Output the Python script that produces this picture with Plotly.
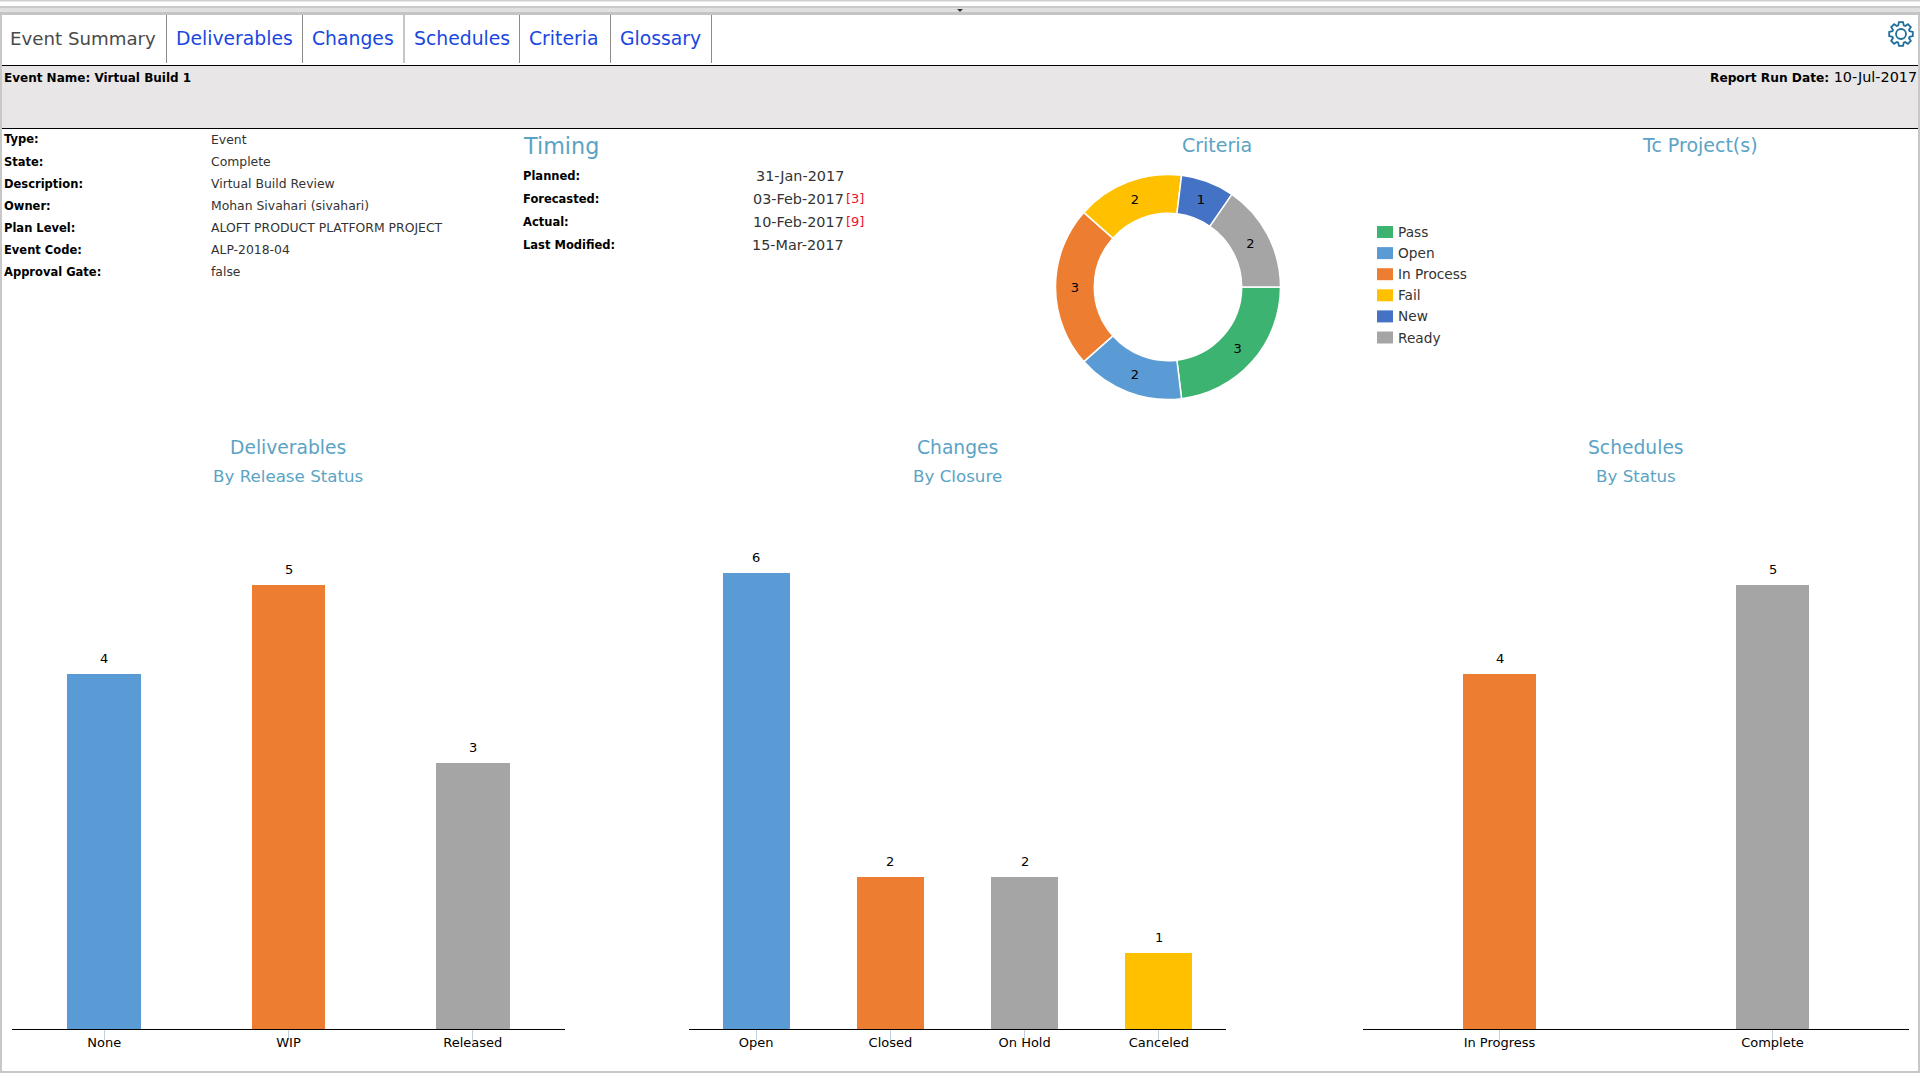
import numpy as np
import plotly.graph_objects as go

W, H = 1920, 1080
FONT = "DejaVu Sans"
TITLE_COLOR = "#5BA3C4"
TAB_BLUE = "#1A47E0"
TEXT_COLOR = "#333333"

tabs = ["Event Summary", "Deliverables", "Changes", "Schedules", "Criteria", "Glossary"]
tab_left = [9, 175, 311, 413, 528, 619]
tab_dividers = [166.5, 302.5, 404, 519.5, 610.5, 711.5]

info_keys = ["Type:", "State:", "Description:", "Owner:", "Plan Level:", "Event Code:", "Approval Gate:"]
info_values = ["Event", "Complete", "Virtual Build Review", "Mohan Sivahari (sivahari)",
               "ALOFT PRODUCT PLATFORM PROJECT", "ALP-2018-04", "false"]

timing_keys = ["Planned:", "Forecasted:", "Actual:", "Last Modified:"]
timing_dates = ["31-Jan-2017", "03-Feb-2017", "10-Feb-2017", "15-Mar-2017"]
timing_slips = ["", "[3]", "[9]", ""]

criteria_labels = ["Pass", "Open", "In Process", "Fail", "New", "Ready"]
criteria_values = [3, 2, 3, 2, 1, 2]
criteria_colors = ["#3CB371", "#5B9BD5", "#ED7D31", "#FFC000", "#4472C4", "#A5A5A5"]

deliv_labels = ["None", "WIP", "Released"]
deliv_values = [4, 5, 3]
deliv_colors = ["#5B9BD5", "#ED7D31", "#A5A5A5"]

change_labels = ["Open", "Closed", "On Hold", "Canceled"]
change_values = [6, 2, 2, 1]
change_colors = ["#5B9BD5", "#ED7D31", "#A5A5A5", "#FFC000"]

sched_labels = ["In Progress", "Complete"]
sched_values = [4, 5]
sched_colors = ["#ED7D31", "#A5A5A5"]


def px(x):
    return x / W


def py(y):
    return 1 - y / H


def label(x, y, text, size=13, color=TEXT_COLOR, anchor="left"):
    return dict(x=px(x), y=py(y), xref="paper", yref="paper", text=text, showarrow=False,
                xanchor=anchor, yanchor="middle", borderpad=0,
                font=dict(family=FONT, size=size, color=color))


def rect(x0, y0, x1, y1, fill):
    return dict(type="rect", xref="paper", yref="paper", x0=px(x0), x1=px(x1), y0=py(y0), y1=py(y1),
                fillcolor=fill, line_width=0, layer="below")


def hline(x0, x1, y, color="black", width=1):
    return dict(type="line", xref="paper", yref="paper", x0=px(x0), x1=px(x1), y0=py(y), y1=py(y),
                line=dict(color=color, width=width))


def vline(x, y0, y1, color="#8C8C8C", width=1):
    return dict(type="line", xref="paper", yref="paper", x0=px(x), x1=px(x), y0=py(y0), y1=py(y1),
                line=dict(color=color, width=width))


def gear_path(cx, cy, r_out, r_in, teeth=8):
    pts = []
    step = 2 * np.pi / teeth
    for i in range(teeth):
        a = i * step
        for off, r in [(-0.36, r_in), (-0.2, r_out), (0.2, r_out), (0.36, r_in)]:
            t = a + off * step * 1.1
            pts.append((cx + r * np.cos(t), cy + r * np.sin(t)))
    return "M" + " L".join(f"{px(x):.5f},{py(y):.5f}" for x, y in pts) + " Z"


shapes = [
    rect(0, 0, W, 1.5, "#CFCFCF"),
    rect(0, 6, W, 8, "#CACACA"),
    rect(0, 8, W, 12, "#E0E0E0"),
    rect(0, 12, W, 15, "#C4C4C4"),
    rect(0, 66, W, 128, "#E8E6E7"),
    hline(0, W, 65.5),
    hline(2, W - 2, 128.5),
    vline(1, 15, 1072, "#C8C8C8", 2),
    vline(W - 1, 15, 1072, "#C8C8C8", 2),
    hline(0, W, 1072, "#C8C8C8", 2),
]
shapes += [vline(x, 15, 63) for x in tab_dividers]
# little arrow in the splitter bar and the settings gear
shapes.append(dict(type="path", xref="paper", yref="paper", fillcolor="#333333", line_width=0,
                   path=f"M{px(957)},{py(9)} L{px(963)},{py(9)} L{px(960)},{py(12)} Z"))
shapes.append(dict(type="path", xref="paper", yref="paper", line=dict(color="#1F6E9C", width=1.8),
                   path=gear_path(1901, 34, 12, 9)))
shapes.append(dict(type="circle", xref="paper", yref="paper", line=dict(color="#1F6E9C", width=1.8),
                   x0=px(1896), x1=px(1906), y0=py(29), y1=py(39)))

annotations = []
for i, name in enumerate(tabs):
    if i == 0:
        annotations.append(label(tab_left[i], 38, name, 18.2, "#4A4A4A"))
    else:
        annotations.append(label(tab_left[i], 38, name, 18.8, TAB_BLUE))

annotations.append(label(2.5, 78, "<b>Event Name: Virtual Build 1</b>", 12, "black"))
annotations.append(label(1918, 77, "<span style='font-size:12.2px'><b>Report Run Date:</b></span> 10-Jul-2017",
                         14.4, "black", "right"))

for i, key in enumerate(info_keys):
    y = 139.5 + 22 * i
    annotations.append(label(2.5, y, f"<b>{key}</b>", 11.5, "black"))
    annotations.append(label(210, y, info_values[i], 12.4))

annotations.append(label(522, 146, "Timing", 22.3, TITLE_COLOR))
for i, key in enumerate(timing_keys):
    y = 175.8 + 23 * i
    annotations.append(label(522, y, f"<b>{key}</b>", 11.5, "black"))
    annotations.append(label(845, y, timing_dates[i], 14.4, TEXT_COLOR, "right"))
    if timing_slips[i]:
        annotations.append(label(845, y, timing_slips[i], 13, "#E8112D"))

annotations.append(label(1217, 145, "Criteria", 19, TITLE_COLOR, "center"))
annotations.append(label(1700, 145, "Tc Project(s)", 19, TITLE_COLOR, "center"))
for cx, head, sub in [(288, "Deliverables", "By Release Status"),
                      (957, "Changes", "By Closure"),
                      (1636, "Schedules", "By Status")]:
    annotations.append(label(cx, 447.5, head, 18.7, TITLE_COLOR, "center"))
    annotations.append(label(cx, 476, sub, 16.7, TITLE_COLOR, "center"))

# legend boxes are wider than plotly's own pie legend swatches, so draw it by hand
for i, name in enumerate(criteria_labels):
    top = 226 + 21.1 * i
    shapes.append(rect(1377, top, 1393, top + 12, criteria_colors[i]))
    annotations.append(label(1397, top + 6, name, 13.7))

fig = go.Figure()
fig.add_trace(go.Pie(labels=criteria_labels, values=criteria_values, sort=False, direction="clockwise",
                     rotation=90, hole=0.655, textinfo="value", textposition="inside",
                     insidetextorientation="horizontal", showlegend=False,
                     textfont=dict(family=FONT, size=13, color="black"),
                     marker=dict(colors=criteria_colors, line=dict(color="white", width=1.5)),
                     domain=dict(x=[px(1055.5), px(1280.5)], y=[py(399.5), py(174.5)])))


def bar(labels, values, colors, width, n):
    suffix = "" if n == 1 else str(n)
    return go.Bar(x=labels, y=values, marker=dict(color=colors, line_width=0), width=width,
                  showlegend=False, xaxis="x" + suffix, yaxis="y" + suffix)


def value_labels(labels, values, n):
    suffix = "" if n == 1 else str(n)
    return [dict(x=c, y=v, xref="x" + suffix, yref="y" + suffix, text=str(v), showarrow=False,
                 yanchor="middle", yshift=15.5, font=dict(family=FONT, size=13, color="black"))
            for c, v in zip(labels, values)]


fig.add_trace(bar(deliv_labels, deliv_values, deliv_colors, 0.4, 1))
fig.add_trace(bar(change_labels, change_values, change_colors, 0.5, 2))
fig.add_trace(bar(sched_labels, sched_values, sched_colors, 0.267, 3))
annotations += value_labels(deliv_labels, deliv_values, 1)
annotations += value_labels(change_labels, change_values, 2)
annotations += value_labels(sched_labels, sched_values, 3)


def x_axis(x0, x1, n, anchor):
    return dict(domain=[px(x0), px(x1)], range=[-0.5, n - 0.5], type="category", anchor=anchor,
                showline=True, linecolor="black", linewidth=1, showgrid=False, zeroline=False,
                ticks="outside", ticklen=10, tickcolor="#C0D0E0", tickwidth=1, ticklabelstandoff=-9,
                tickfont=dict(family=FONT, size=13, color="black"))


def y_axis(top, vmax, anchor):
    return dict(domain=[py(1029), py(top)], range=[0, vmax], visible=False, anchor=anchor, showgrid=False)


fig.update_layout(
    width=W, height=H, margin=dict(l=0, r=0, t=0, b=0, pad=0), autosize=False,
    paper_bgcolor="white", plot_bgcolor="white", bargap=0,
    font=dict(family=FONT, color=TEXT_COLOR),
    shapes=shapes, annotations=annotations,
    xaxis=x_axis(12, 565, len(deliv_labels), "y"),
    xaxis2=x_axis(689, 1226, len(change_labels), "y2"),
    xaxis3=x_axis(1363, 1909, len(sched_labels), "y3"),
    yaxis=y_axis(585, 5, "x"),
    yaxis2=y_axis(573, 6, "x2"),
    yaxis3=y_axis(585, 5, "x3"),
)

fig.write_html("out.html", config={"displayModeBar": False},
               post_script="document.body.style.margin='0';document.body.style.overflow='hidden';")
